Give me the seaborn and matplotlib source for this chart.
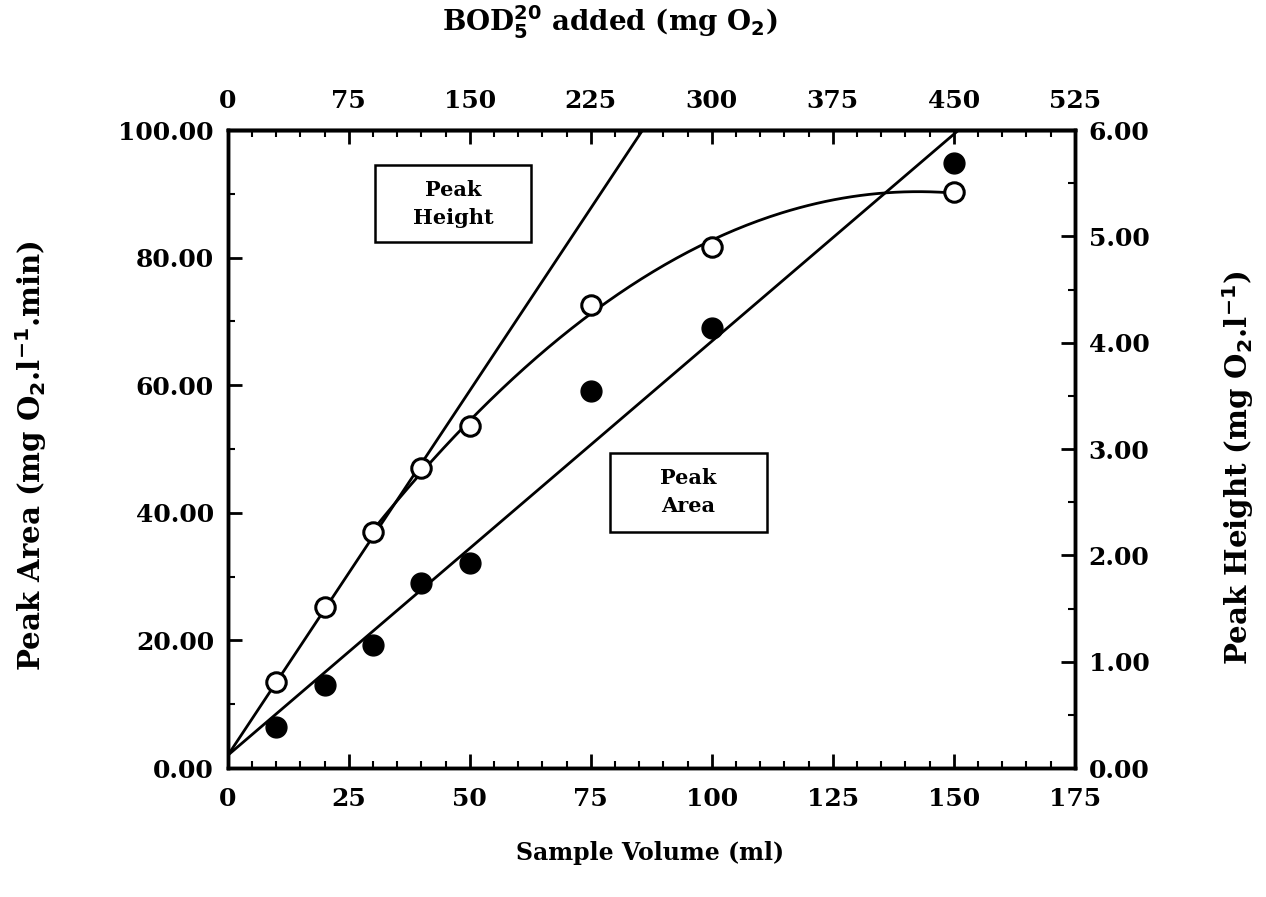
import numpy as np
import pandas as pd
import matplotlib
matplotlib.use("Agg")
import matplotlib.pyplot as plt
import seaborn as sns
from matplotlib.ticker import MultipleLocator, FormatStrFormatter
from matplotlib.patches import Rectangle

# ---- data ----
sample_volume = [10, 20, 30, 40, 50, 75, 100, 150]
peak_height_open = [13.5, 25.2, 37.0, 47.0, 53.6, 72.6, 81.7, 90.3]   # open circles (left-axis units)
peak_area_filled = [6.4, 13.0, 19.3, 29.0, 32.1, 59.1, 69.0, 94.8]   # filled circles
height_line_x = [0, 85.7]
height_line_y = [2.0, 100.0]
area_line_x = [0, 151.0]
area_line_y = [2.0, 100.0]
curve_start = 30  # fitted curve drawn from this sample volume onward

sns.set_style("ticks")
plt.rcParams['font.family'] = ['DejaVu Serif']
plt.rcParams['font.weight'] = 'bold'
plt.rcParams['mathtext.default'] = 'bf'
for k in ['text.color', 'axes.labelcolor', 'xtick.color', 'ytick.color', 'axes.edgecolor']:
    plt.rcParams[k] = 'black'

fig = plt.figure(figsize=(12.66, 8.97), dpi=100)
ax = fig.add_axes([0.180, 0.1438, 0.669, 0.7112])

df_open = pd.DataFrame({"x": sample_volume, "y": peak_height_open})
df_fill = pd.DataFrame({"x": sample_volume, "y": peak_area_filled})

lw = 2.0
sns.lineplot(x=height_line_x, y=height_line_y, ax=ax, color="black", lw=lw)
sns.lineplot(x=area_line_x, y=area_line_y, ax=ax, color="black", lw=lw)

sub = df_open[df_open.x >= curve_start]
coef = np.polyfit(sub.x, sub.y, 2)
xs = np.linspace(curve_start, max(sample_volume), 200)
ax.plot(xs, np.polyval(coef, xs), color="black", lw=lw)

ax.plot(df_open.x, df_open.y, 'o', ms=14, mfc="white", mec="black", mew=2.2, zorder=5)
ax.plot(df_fill.x, df_fill.y, 'o', ms=15, mfc="black", mec="black", zorder=5)

ax.set_xlim(0, 175)
ax.set_ylim(0, 100)
ax.xaxis.set_major_locator(MultipleLocator(25))
ax.xaxis.set_minor_locator(MultipleLocator(5))
ax.yaxis.set_major_locator(MultipleLocator(20))
ax.yaxis.set_minor_locator(MultipleLocator(10))
ax.yaxis.set_major_formatter(FormatStrFormatter("%.2f"))

fs = 18
ax.tick_params(which="major", direction="in", length=10, width=2, labelsize=fs, pad=14)
ax.tick_params(which="minor", direction="in", length=5, width=1.5)
ax.tick_params(axis="y", pad=10)
for s in ax.spines.values():
    s.set_linewidth(2.5)

ax2 = ax.twinx()
ax2.set_ylim(0, 6)
ax2.yaxis.set_major_locator(MultipleLocator(1))
ax2.yaxis.set_minor_locator(MultipleLocator(0.5))
ax2.yaxis.set_major_formatter(FormatStrFormatter("%.2f"))
ax2.tick_params(which="major", direction="in", length=10, width=2, labelsize=fs, pad=10)
ax2.tick_params(which="minor", direction="in", length=5, width=1.5)
for s in ax2.spines.values():
    s.set_linewidth(2.5)

top = ax.secondary_xaxis("top", functions=(lambda v: v * 3, lambda v: v / 3))
top.xaxis.set_major_locator(MultipleLocator(75))
top.xaxis.set_minor_locator(MultipleLocator(15))
top.tick_params(which="major", direction="in", length=10, width=2, labelsize=fs, pad=12)
top.tick_params(which="minor", direction="in", length=5, width=1.5)
top.spines["top"].set_linewidth(2.5)

ax.set_xlabel("Sample Volume (ml)", fontsize=17, fontweight="bold")
ax.xaxis.set_label_coords(0.498, -0.133)
ax.xaxis.label.set_va("center")

ax.set_ylabel("Peak Area (mg O$_2$.l$^{-1}$.min)", fontsize=21, fontweight="bold")
ax.yaxis.set_label_coords(-0.232, 0.49)
ax.yaxis.label.set_va("center")

ax2.set_ylabel("Peak Height (mg O$_2$.l$^{-1}$)", fontsize=21, fontweight="bold")
ax2.yaxis.set_label_coords(1.193, 0.47)
ax2.yaxis.label.set_va("center")

top.set_xlabel("BOD$_5^{20}$ added (mg O$_2$)", fontsize=20, fontweight="bold", labelpad=42)
top.xaxis.label.set_x(0.451)

# label boxes
for (x0, x1, y0, y1, txt) in [(30.4, 62.6, 82.4, 94.5, "Peak\nHeight"),
                              (78.9, 111.4, 37.0, 49.4, "Peak\nArea")]:
    ax.add_patch(Rectangle((x0, y0), x1 - x0, y1 - y0, fill=False, lw=1.8, ec="black", zorder=6))
    ax.text((x0 + x1) / 2, (y0 + y1) / 2, txt, ha="center", va="center",
            fontsize=15, fontweight="bold", linespacing=1.5, zorder=7)

fig.savefig("out.png", dpi=100)
